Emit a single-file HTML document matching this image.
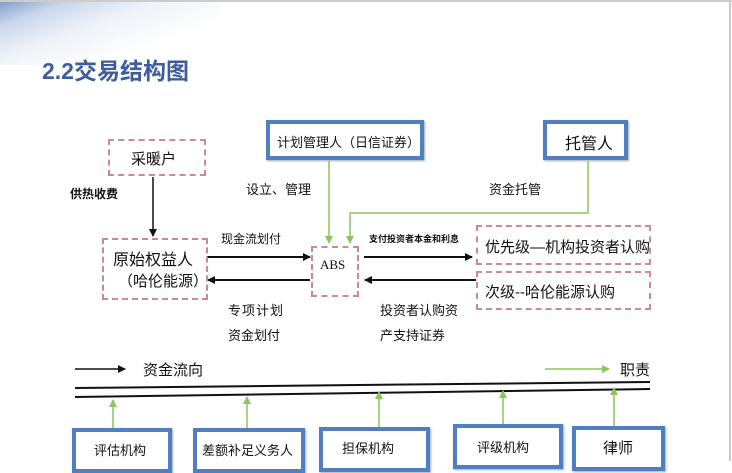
<!DOCTYPE html>
<html><head><meta charset="utf-8"><style>
body{margin:0;width:732px;height:461px;overflow:hidden;background:#fff;position:relative;font-family:"Liberation Sans","Noto Sans CJK SC",sans-serif}
.t{position:absolute;white-space:nowrap;color:#111;font-family:"Liberation Sans","Noto Sans CJK SC",sans-serif}
.b{position:absolute;box-sizing:border-box}
.blue{border:4px solid #4f7fbf;background:#fff;box-shadow:1px 1px 2px #9ab}
.dash{border:2px dashed #c98a90}
</style></head><body>
<div class="b" style="left:0;top:0;width:220px;height:65px;background:linear-gradient(160deg,#7d98c8 0%,#c9d6ea 18%,#eef2f8 40%,#fff 70%)"></div>
<div class="b" style="left:0;top:0;width:732px;height:2px;background:#ccc"></div>
<div class="b" style="left:729px;top:0;width:2px;height:461px;background:#ccc"></div>
<div class="t" style="left:42px;top:52px;font-size:23px;font-weight:bold;color:#3f5d9c">2.2交易结构图</div>

<svg width="732" height="461" style="position:absolute;left:0;top:0">
<defs>
<marker id="ab" markerWidth="8" markerHeight="8" refX="7" refY="4" orient="auto" markerUnits="userSpaceOnUse"><path d="M0,0L8,4L0,8z" fill="#111"/></marker>
<marker id="ag" markerWidth="8" markerHeight="8" refX="7" refY="4" orient="auto" markerUnits="userSpaceOnUse"><path d="M0,0L8,4L0,8z" fill="#8cc65a"/></marker>
</defs>
<g stroke="#111" stroke-width="2" fill="none">
<line x1="153" y1="177" x2="153" y2="236" marker-end="url(#ab)" stroke-width="1.5"/>
<line x1="207" y1="257" x2="310" y2="257" marker-end="url(#ab)"/>
<line x1="310" y1="280" x2="208" y2="280" marker-end="url(#ab)"/>
<line x1="364" y1="257" x2="472" y2="257" marker-end="url(#ab)"/>
<line x1="476" y1="280" x2="365" y2="280" marker-end="url(#ab)"/>
<line x1="75" y1="369" x2="125" y2="369" marker-end="url(#ab)" stroke-width="1.5"/>
<line x1="75" y1="388" x2="650" y2="382"/>
<line x1="75" y1="397" x2="650" y2="389"/>
</g>
<g stroke="#8cc65a" stroke-width="1.5" fill="none">
<line x1="329" y1="161" x2="329" y2="243" marker-end="url(#ag)"/>
<polyline points="588,161 588,213 350,213 350,243" marker-end="url(#ag)"/>
<line x1="545" y1="369" x2="609" y2="369" marker-end="url(#ag)"/>
<line x1="113" y1="428" x2="113" y2="400" marker-end="url(#ag)"/>
<line x1="247" y1="428" x2="247" y2="397" marker-end="url(#ag)"/>
<line x1="379" y1="427" x2="379" y2="392" marker-end="url(#ag)"/>
<line x1="503" y1="424" x2="503" y2="391" marker-end="url(#ag)"/>
<line x1="614" y1="426" x2="614" y2="388" marker-end="url(#ag)"/>
</g>
</svg>

<div class="b dash" style="left:108px;top:139px;width:98px;height:37px"></div>
<div class="t" style="left:131px;top:148px;font-size:15px">采暖户</div>
<div class="b blue" style="left:266px;top:120px;width:158px;height:40px"></div>
<div class="t" style="left:277px;top:132px;font-size:13px">计划管理人（日信证券）</div>
<div class="b blue" style="left:543px;top:120px;width:85px;height:40px"></div>
<div class="t" style="left:565px;top:130px;font-size:16px">托管人</div>
<div class="b dash" style="left:102px;top:238px;width:106px;height:62px"></div>
<div class="t" style="left:113px;top:246px;font-size:16px">原始权益人</div>
<div class="t" style="left:118px;top:270px;font-size:15px">（哈伦能源）</div>
<div class="b dash" style="left:311px;top:246px;width:48px;height:51px"></div>
<div class="t" style="left:320px;top:257px;font-size:13px;font-family:'Liberation Serif',serif">ABS</div>
<div class="b dash" style="left:476px;top:225px;width:175px;height:40px"></div>
<div class="t" style="left:485px;top:236px;font-size:15px">优先级—机构投资者认购</div>
<div class="b dash" style="left:476px;top:271px;width:175px;height:39px"></div>
<div class="t" style="left:485px;top:281px;font-size:15px">次级--哈伦能源认购</div>

<div class="t" style="left:70px;top:185px;font-size:12px;font-weight:bold">供热收费</div>
<div class="t" style="left:246px;top:179px;font-size:13px">设立、管理</div>
<div class="t" style="left:489px;top:179px;font-size:13px">资金托管</div>
<div class="t" style="left:221px;top:230px;font-size:12px">现金流划付</div>
<div class="t" style="left:369px;top:232px;font-size:9px;font-weight:bold">支付投资者本金和利息</div>
<div class="t" style="left:228px;top:300px;font-size:13px;letter-spacing:1px">专项计划</div>
<div class="t" style="left:228px;top:325px;font-size:13px">资金划付</div>
<div class="t" style="left:380px;top:300px;font-size:13px">投资者认购资</div>
<div class="t" style="left:380px;top:325px;font-size:13px">产支持证券</div>
<div class="t" style="left:143px;top:359px;font-size:15px">资金流向</div>
<div class="t" style="left:620px;top:359px;font-size:15px">职责</div>

<div class="b blue" style="left:72px;top:428px;width:100px;height:45px"></div>
<div class="t" style="left:94px;top:440px;font-size:13px">评估机构</div>
<div class="b blue" style="left:193px;top:428px;width:112px;height:45px"></div>
<div class="t" style="left:202px;top:440px;font-size:13px">差额补足义务人</div>
<div class="b blue" style="left:319px;top:427px;width:111px;height:45px"></div>
<div class="t" style="left:342px;top:438px;font-size:13px">担保机构</div>
<div class="b blue" style="left:453px;top:424px;width:110px;height:45px"></div>
<div class="t" style="left:477px;top:437px;font-size:13px">评级机构</div>
<div class="b blue" style="left:572px;top:426px;width:93px;height:45px"></div>
<div class="t" style="left:603px;top:437px;font-size:15px">律师</div>
</body></html>
